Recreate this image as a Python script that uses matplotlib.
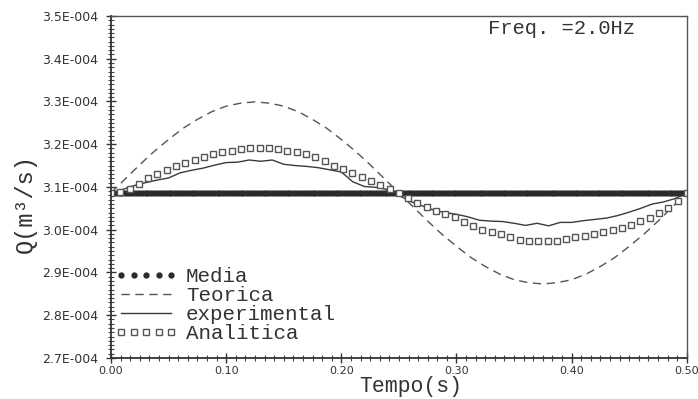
import numpy as np
import matplotlib
matplotlib.use("Agg")
import matplotlib.pyplot as plt
from matplotlib.ticker import MultipleLocator, AutoMinorLocator, FuncFormatter

# values in units of 1E-4 m^3/s
media_value = 3.085

teorica = [3.086, 3.119, 3.152, 3.183, 3.211, 3.237, 3.258, 3.276, 3.289, 3.296,
           3.299, 3.296, 3.289, 3.276, 3.258, 3.237, 3.211, 3.183, 3.152, 3.119,
           3.086, 3.053, 3.020, 2.989, 2.961, 2.935, 2.914, 2.896, 2.883, 2.876,
           2.873, 2.876, 2.883, 2.896, 2.914, 2.935, 2.961, 2.989, 3.020, 3.053,
           3.086]

experimental = [3.086, 3.094, 3.103, 3.110, 3.116, 3.121, 3.133, 3.139, 3.144, 3.151,
                3.157, 3.158, 3.163, 3.160, 3.163, 3.153, 3.150, 3.148, 3.145, 3.140,
                3.135, 3.112, 3.101, 3.099, 3.094, 3.080, 3.066, 3.056, 3.046, 3.040,
                3.036, 3.030, 3.022, 3.020, 3.019, 3.015, 3.010, 3.015, 3.009, 3.017,
                3.017, 3.021, 3.024, 3.027, 3.033, 3.041, 3.050, 3.060, 3.065, 3.073,
                3.086]

analitica = [3.085, 3.088, 3.094, 3.108, 3.120, 3.130, 3.139, 3.148, 3.156, 3.163,
             3.170, 3.176, 3.181, 3.185, 3.189, 3.190, 3.191, 3.190, 3.188, 3.185,
             3.181, 3.176, 3.169, 3.160, 3.150, 3.142, 3.133, 3.124, 3.114, 3.104,
             3.094, 3.085, 3.074, 3.062, 3.052, 3.044, 3.037, 3.029, 3.018, 3.008,
             3.000, 2.994, 2.989, 2.982, 2.976, 2.974, 2.973, 2.973, 2.974, 2.978,
             2.982, 2.985, 2.989, 2.994, 2.999, 3.005, 3.012, 3.020, 3.028, 3.038,
             3.050, 3.068, 3.085]

t_end = 0.5
t_teo = np.linspace(0, t_end, len(teorica))
t_exp = np.linspace(0, t_end, len(experimental))
t_ana = np.linspace(0, t_end, len(analitica))
t_med = np.linspace(0, t_end, 201)

scale = 1e-4
mono = "Liberation Mono"

fig = plt.figure(figsize=(6.98, 3.99), dpi=100)
ax = fig.add_axes([0.159, 0.103, 0.825, 0.857])

ax.plot(t_med, np.full(len(t_med), media_value) * scale, linestyle="none",
        marker="o", markersize=3.5, color="#2a2a2a", label="Media")
ax.plot(t_teo, np.array(teorica) * scale, linestyle=(0, (6, 4)), lw=1.0,
        color="#555555", label="Teorica")
ax.plot(t_exp, np.array(experimental) * scale, "-", lw=1.0, color="#3a3a3a",
        label="experimental")
ax.plot(t_ana, np.array(analitica) * scale, linestyle="none", marker="s",
        markersize=4, markerfacecolor="white", markeredgecolor="#555555",
        markeredgewidth=1.0, label="Analitica")

ax.set_xlim(0, 0.5)
ax.set_ylim(2.7e-4, 3.5e-4)
ax.xaxis.set_major_locator(MultipleLocator(0.1))
ax.xaxis.set_minor_locator(AutoMinorLocator(12))
ax.yaxis.set_major_locator(MultipleLocator(0.1e-4))
ax.yaxis.set_minor_locator(AutoMinorLocator(10))


def sci(v, pos):
    m, e = f"{v:.1E}".split("E")
    return f"{m}E{int(e):+04d}"


ax.yaxis.set_major_formatter(FuncFormatter(sci))
ax.xaxis.set_major_formatter(FuncFormatter(lambda v, p: f"{v:.2f}"))

ax.tick_params(axis="both", which="major", direction="inout", length=7,
               width=1.0, colors="#333333", labelcolor="#333333")
ax.tick_params(axis="both", which="minor", direction="inout", length=4,
               width=0.8, colors="#444444")
ax.tick_params(axis="y", pad=6, labelsize=9)
ax.tick_params(axis="x", pad=2, labelsize=8)

for side in ["left", "bottom"]:
    ax.spines[side].set_linewidth(1.3)
    ax.spines[side].set_color("#333333")
for side in ["top", "right"]:
    ax.spines[side].set_linewidth(1.0)
    ax.spines[side].set_color("#555555")

ax.set_xlabel("Tempo(s)", fontfamily=mono, fontsize=15.5, color="#333333")
ax.xaxis.set_label_coords(0.52, -0.052)
ax.set_ylabel("Q(m³/s)", fontfamily=mono, fontsize=17, color="#333333")
ax.yaxis.set_label_coords(-0.128, 0.45)

ax.text(0.655, 0.962, "Freq. =2.0Hz", transform=ax.transAxes, fontfamily=mono,
        fontsize=14.8, color="#333333", va="center", ha="left")

leg = ax.legend(loc="lower left", bbox_to_anchor=(0.0, 0.03), frameon=False,
                prop={"family": mono, "size": 15}, numpoints=5,
                handlelength=3.0, handletextpad=0.4, labelspacing=0.0,
                borderaxespad=0.0, borderpad=0.2)
for txt in leg.get_texts():
    txt.set_color("#333333")

fig.savefig("out.png", dpi=100)
